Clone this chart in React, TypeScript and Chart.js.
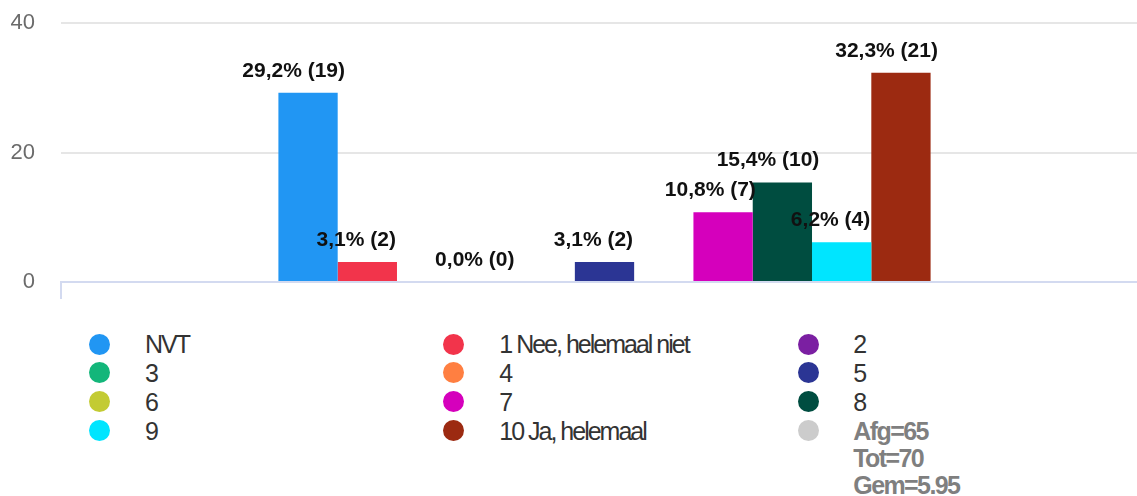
import React, { useEffect, useRef } from "react";
import { Chart, registerables } from "chart.js";

Chart.register(...registerables);

const categories = ["NVT", "1 Nee, helemaal niet", "2", "3", "4", "5", "6", "7", "8", "9", "10 Ja, helemaal"];
const counts = [19, 2, 0, 0, 0, 2, 0, 7, 10, 4, 21];
const colors = ["#2196F3", "#F2344B", "#7B1FA2", "#13B67A", "#FF7F41", "#2B3594", "#C3CB33", "#D500BC", "#004D40", "#00E5FF", "#9C2A11"];
const yTicks = [0, 20, 40];
const statLines = ["Afg=65", "Tot=70", "Gem=5.95"];
const statColor = "#CCCCCC";

const answered = counts.reduce((a, b) => a + b, 0);
const percents = counts.map((c) => (c / answered) * 100);

const FONT = '"Liberation Sans", Arial, Helvetica, sans-serif';
const AXIS_BLUE = "#d3daf0";
const CANVAS_W = 1150;
const CANVAS_H = 305;

const labelPlugin = {
  id: "barLabels",
  afterDatasetsDraw(chart: any) {
    const ctx = chart.ctx;
    ctx.save();
    ctx.font = `bold 21px ${FONT}`;
    ctx.fillStyle = "#111";
    ctx.textAlign = "left";
    ctx.textBaseline = "alphabetic";
    const boxes: { l: number; r: number; t: number; b: number }[] = [];
    chart.data.datasets.forEach((ds: any, i: number) => {
      const meta = chart.getDatasetMeta(i);
      const el = meta.data[0];
      if (!el) return;
      const text = percents[i].toFixed(1).replace(".", ",") + "% (" + counts[i] + ")";
      const w = ctx.measureText(text).width;
      const left = el.x - 0.64 * w;
      const base = el.y - 16;
      const box = { l: left, r: left + w, t: base - 16, b: base + 5 };
      const hit = boxes.some((o) => box.l < o.r && box.r > o.l && box.t < o.b && box.b > o.t);
      if (hit) return;
      boxes.push(box);
      ctx.fillText(text, left, base);
    });
    ctx.restore();
  },
};

export default function App() {
  const ref = useRef<HTMLCanvasElement | null>(null);

  useEffect(() => {
    if (!ref.current) return;
    const chart = new Chart(ref.current, {
      type: "bar",
      data: {
        labels: [""],
        datasets: categories.map((c, i) => ({
          label: c,
          data: [percents[i]],
          backgroundColor: colors[i],
          borderWidth: 0,
          categoryPercentage: 0.6,
          barPercentage: 1,
        })),
      },
      options: {
        responsive: false,
        animation: false,
        devicePixelRatio: 1,
        layout: { padding: { top: 23, left: 0, right: 2, bottom: 0 } },
        plugins: { legend: { display: false }, tooltip: { enabled: false } },
        scales: {
          x: {
            grid: {
              display: true,
              drawOnChartArea: false,
              drawTicks: true,
              tickLength: 17,
              color: AXIS_BLUE,
              lineWidth: 2,
              offset: true,
            },
            border: { display: true, color: AXIS_BLUE, width: 2 },
            ticks: { display: false },
            afterFit: (s: any) => {
              s.height = 23;
              s.paddingLeft = 0;
              s.paddingRight = 0;
            },
          },
          y: {
            min: 0,
            max: 40,
            afterBuildTicks: (s: any) => {
              s.ticks = yTicks.map((v) => ({ value: v }));
            },
            ticks: { padding: 26, color: "#6b6b6b", font: { size: 22, family: FONT } },
            grid: {
              color: (c: any) => (c.tick && c.tick.value === 0 ? AXIS_BLUE : "#e6e6e6"),
              lineWidth: 2,
              drawTicks: false,
            },
            border: { display: false },
            afterFit: (s: any) => {
              s.width = 61;
              s.paddingTop = 0;
              s.paddingBottom = 0;
            },
          },
        },
      },
      plugins: [labelPlugin],
    } as any);
    return () => chart.destroy();
  }, []);

  const colX = [
    { c: 99.5, t: 145 },
    { c: 453.8, t: 499.3 },
    { c: 808, t: 853.3 },
  ];
  const rowY = (r: number) => 344 + r * 28.9;

  const items = categories.map((c, i) => ({ label: c, color: colors[i] }));

  return (
    <div style={{ position: "absolute", left: 0, top: 0, width: 1137, height: 496, overflow: "hidden", background: "#fff" }}>
      <div style={{ position: "absolute", left: 0, top: 0, width: CANVAS_W, height: CANVAS_H }}>
        <canvas ref={ref} width={CANVAS_W} height={CANVAS_H} style={{ display: "block" }} />
      </div>
      {items.map((it, i) => {
        const col = colX[i % 3];
        const cy = rowY(Math.floor(i / 3));
        return (
          <React.Fragment key={i}>
            <div
              style={{
                position: "absolute",
                left: col.c - 10.5,
                top: cy - 10.5,
                width: 21,
                height: 21,
                borderRadius: "50%",
                background: it.color,
              }}
            />
            <div
              style={{
                position: "absolute",
                left: col.t,
                top: cy - 14.2,
                font: `25px ${FONT}`,
                lineHeight: "29px",
                letterSpacing: "-2px",
                color: "#333",
                whiteSpace: "nowrap",
              }}
            >
              {it.label}
            </div>
          </React.Fragment>
        );
      })}
      {(() => {
        const i = items.length;
        const col = colX[i % 3];
        const cy = rowY(Math.floor(i / 3));
        return (
          <>
            <div
              style={{
                position: "absolute",
                left: col.c - 10.5,
                top: cy - 10.5,
                width: 21,
                height: 21,
                borderRadius: "50%",
                background: statColor,
              }}
            />
            <div
              style={{
                position: "absolute",
                left: col.t,
                top: cy - 13.2,
                font: `bold 25px ${FONT}`,
                lineHeight: "27px",
                letterSpacing: "-1.6px",
                color: "#7f7f7f",
                whiteSpace: "nowrap",
              }}
            >
              {statLines.map((s, k) => (
                <div key={k}>{s}</div>
              ))}
            </div>
          </>
        );
      })()}
    </div>
  );
}
